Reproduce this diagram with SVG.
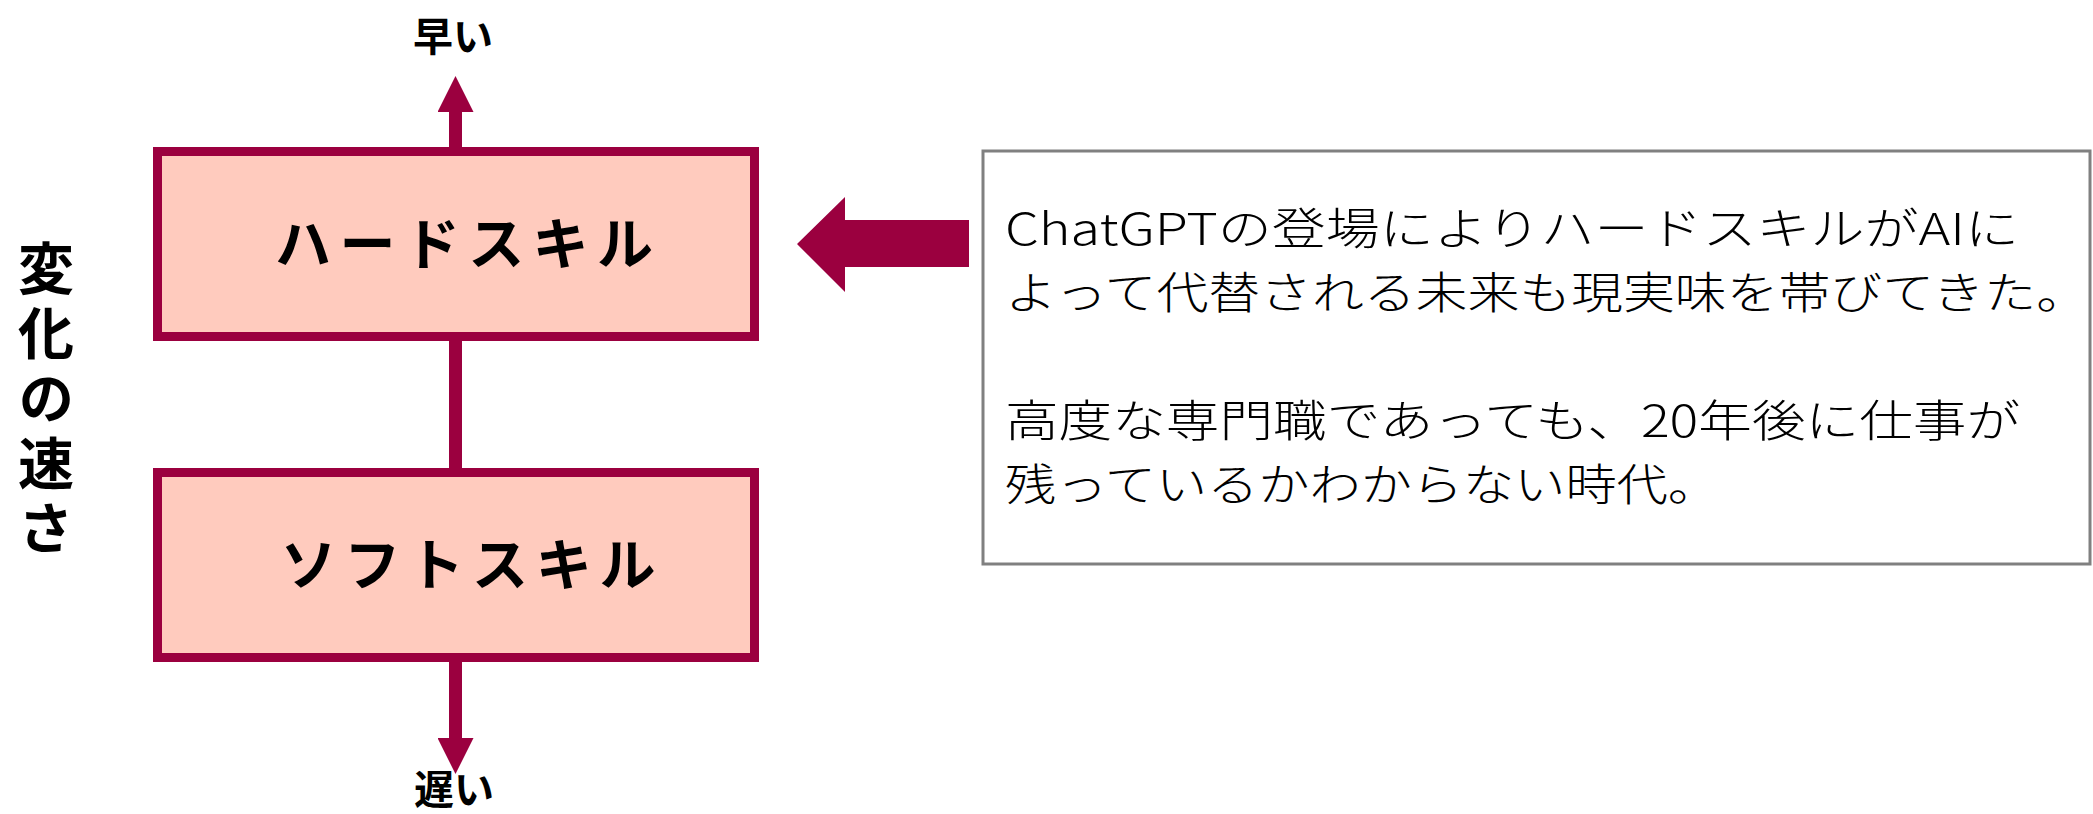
<svg xmlns="http://www.w3.org/2000/svg" width="2093" height="814" viewBox="0 0 2093 814">
<style>
.lbl{font-family:"Noto Sans CJK JP","Noto Sans",sans-serif;font-weight:700;fill:#000}
.box{fill:#FFCBBE;stroke:#9B003F;stroke-width:9}
.body{font-family:"Noto Sans CJK JP","Noto Sans",sans-serif;font-weight:300;font-size:44px;fill:#000}
</style>
<defs>
<marker id="ah" viewBox="0 0 36 36" markerWidth="36" markerHeight="36" refX="0" refY="18" orient="auto" markerUnits="userSpaceOnUse">
<path d="M0,0 L36,18 L0,36 Z" fill="#9B003F"/>
</marker>
</defs>
<rect width="2093" height="814" fill="#fff"/>
<g id="connectors">
<line x1="455.5" y1="147" x2="455.5" y2="112" stroke="#9B003F" stroke-width="13" marker-end="url(#ah)"/>
<line x1="455.5" y1="341" x2="455.5" y2="468" stroke="#9B003F" stroke-width="13"/>
<line x1="455.5" y1="662" x2="455.5" y2="738" stroke="#9B003F" stroke-width="13" marker-end="url(#ah)"/>
<path id="big-arrow" d="M797,244 L845,197 L845,220 L969,220 L969,267 L845,267 L845,292 Z" fill="#9B003F"/>
</g>
<g id="fast">
<text class="lbl" x="453" y="51" font-size="40" text-anchor="middle">早い</text>
</g>
<g id="slow">
<text class="lbl" x="454" y="804" font-size="40" text-anchor="middle">遅い</text>
</g>
<g id="axis-label">
<text class="lbl" x="46" y="240" font-size="56" writing-mode="vertical-rl" letter-spacing="9">変化の速さ</text>
</g>
<g id="hard-skill">
<rect class="box" x="157.5" y="151.5" width="597" height="185"/>
<text class="lbl" x="464" y="264" font-size="56" text-anchor="middle" textLength="378">ハードスキル</text>
</g>
<g id="soft-skill">
<rect class="box" x="157.5" y="472.5" width="597" height="185"/>
<text class="lbl" x="468" y="585" font-size="56" text-anchor="middle" textLength="375">ソフトスキル</text>
</g>
<g id="note">
<rect x="983" y="151" width="1107" height="413" fill="#fff" stroke="#808080" stroke-width="3"/>
<text class="body" x="1005" y="245" textLength="1014" lengthAdjust="spacingAndGlyphs">ChatGPTの登場によりハードスキルがAIに</text>
<text class="body" x="1005" y="309" textLength="1083" lengthAdjust="spacingAndGlyphs">よって代替される未来も現実味を帯びてきた。</text>
<text class="body" x="1005" y="437" textLength="1015" lengthAdjust="spacingAndGlyphs">高度な専門職であっても、20年後に仕事が</text>
<text class="body" x="1005" y="501" textLength="714" lengthAdjust="spacingAndGlyphs">残っているかわからない時代。</text>
</g>
</svg>
